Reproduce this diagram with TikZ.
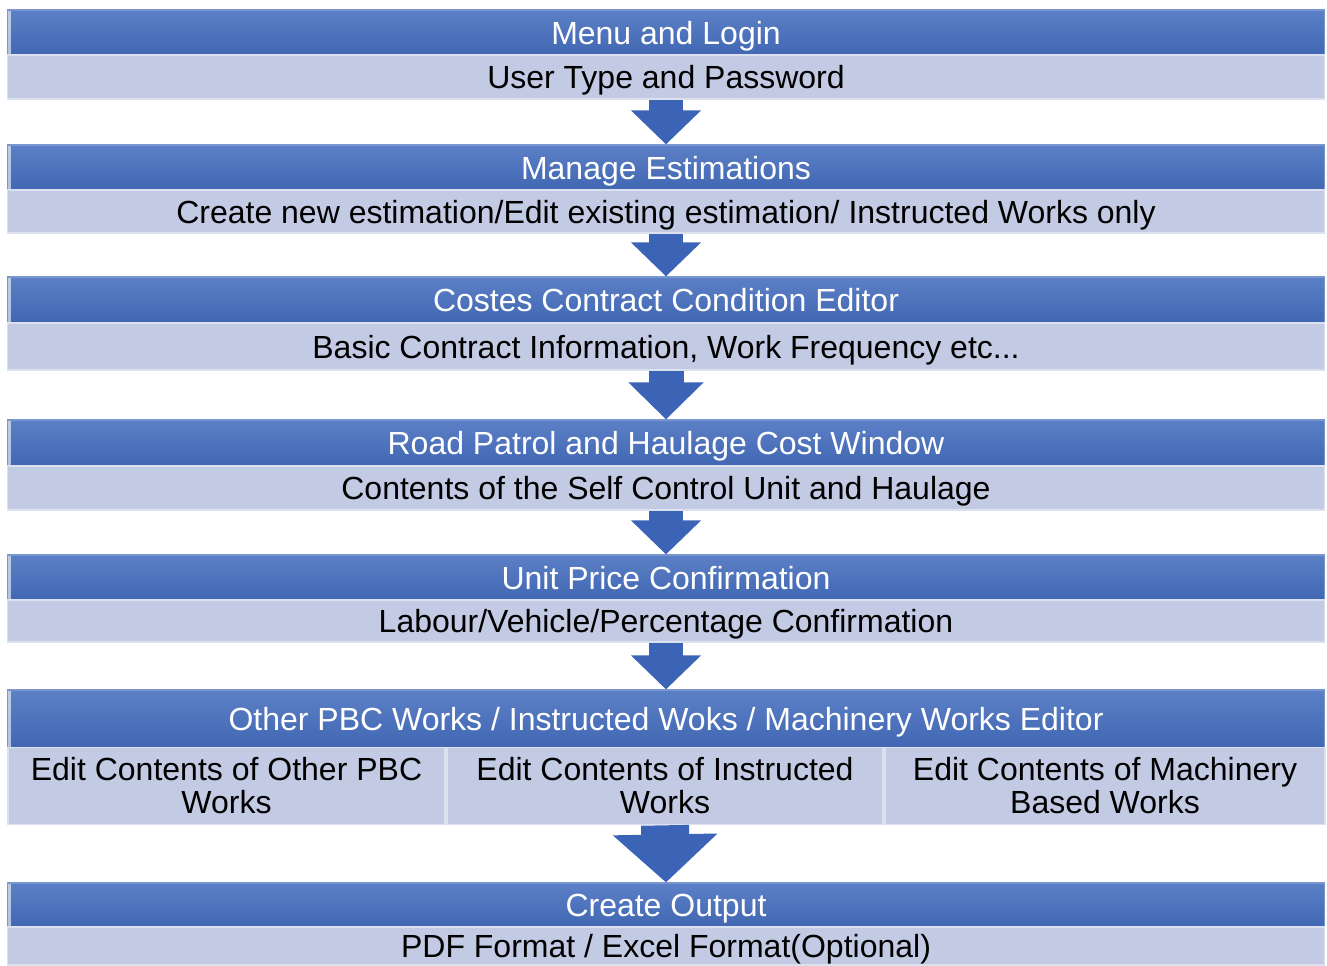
\documentclass[tikz,border=0pt]{standalone}
\usepackage{fontspec}
\setmainfont{Liberation Sans}
\usepackage{tikz}
\usetikzlibrary{arrows.meta}

\definecolor{hdtop}{HTML}{5C80C6}
\definecolor{hdbot}{HTML}{4167B3}
\definecolor{hdline}{HTML}{7A96CF}
\definecolor{subfill}{HTML}{C3CBE4}
\definecolor{subline}{HTML}{DCE1F0}
\definecolor{flowblue}{HTML}{3B64B6}

\newcommand{\bandfont}{\fontsize{16}{16.5}\selectfont}

\tikzset{
  head/.style={rectangle, minimum width=658.5pt, inner sep=0pt,
    top color=hdtop, bottom color=hdbot, draw=hdline, line width=0.6pt,
    text=white, font=\bandfont, text depth=0pt,
    path picture={\fill[white,opacity=0.6]
      (path picture bounding box.north west) rectangle
      ([xshift=1.5pt]path picture bounding box.south west);}},
  subbox/.style={rectangle, minimum width=658.5pt, inner sep=0pt,
    fill=subfill, draw=subline, line width=0.8pt,
    text=black, font=\bandfont},
  sub/.style={subbox, text depth=0pt},
  subtwo/.style={subbox, align=center},
  flow/.style={draw=flowblue, line width=17pt,
    -{Triangle[width=34pt,length=17pt]}},
}

\begin{document}
\begin{tikzpicture}[x=0.5pt,y=-0.5pt]
\useasboundingbox (0,0) rectangle (1327,965);

% Define nodes
\node[head, minimum height=22.5pt] (head1) at (666,32.5) {Menu and Login};
\node[sub, minimum height=22pt] (sub1) at (666,77) {User Type and Password};

\node[head, minimum height=22.5pt] (head2) at (666,167.5) {Manage Estimations};
\node[sub, minimum height=21.5pt] (sub2) at (666,211.5) {Create new estimation/Edit existing estimation/ Instructed Works only};

\node[head, minimum height=23pt] (head3) at (666,300) {Costes Contract Condition Editor};
\node[sub, minimum height=23.5pt] (sub3) at (666,346.5) {Basic Contract Information, Work Frequency etc...};

\node[head, minimum height=23pt] (head4) at (666,443) {Road Patrol and Haulage Cost Window};
\node[sub, minimum height=22pt] (sub4) at (666,488) {Contents of the Self Control Unit and Haulage};

\node[head, minimum height=22.5pt] (head5) at (666,577.5) {Unit Price Confirmation};
\node[sub, minimum height=21pt] (sub5) at (666,621) {Labour/Vehicle/Percentage Confirmation};

\node[head, minimum height=29pt] (head6) at (666,719) {Other PBC Works / Instructed Woks / Machinery Works Editor};
\node[subtwo, minimum width=218.5pt, minimum height=38.5pt] (sub6a) at (226.5,786) {Edit Contents of Other PBC\\Works};
\node[subtwo, minimum width=218pt, minimum height=38.5pt] (sub6b) at (665,786) {Edit Contents of Instructed\\Works};
\node[subtwo, minimum width=220pt, minimum height=38.5pt] (sub6c) at (1105,786) {Edit Contents of Machinery\\Based Works};

\node[head, minimum height=22pt] (head7) at (666,905) {Create Output};
\node[sub, minimum height=19pt] (sub7) at (666,946) {PDF Format / Excel Format(Optional)};

% Edges
\draw[flow] (sub1.south) -- (head2.north);
\draw[flow] (sub2.south) -- (head3.north);
\draw[flow, line width=17.5pt, -{Triangle[width=36.5pt,length=18.5pt]}] (sub3.south) -- (head4.north);
\draw[flow] (sub4.south) -- (head5.north);
\draw[flow] (sub5.south) -- (head6.north);
\draw[flow, line width=24pt, -{Triangle[width=51pt,length=24pt]}] (sub6b.south) -- (head7.north);
\end{tikzpicture}
\end{document}
